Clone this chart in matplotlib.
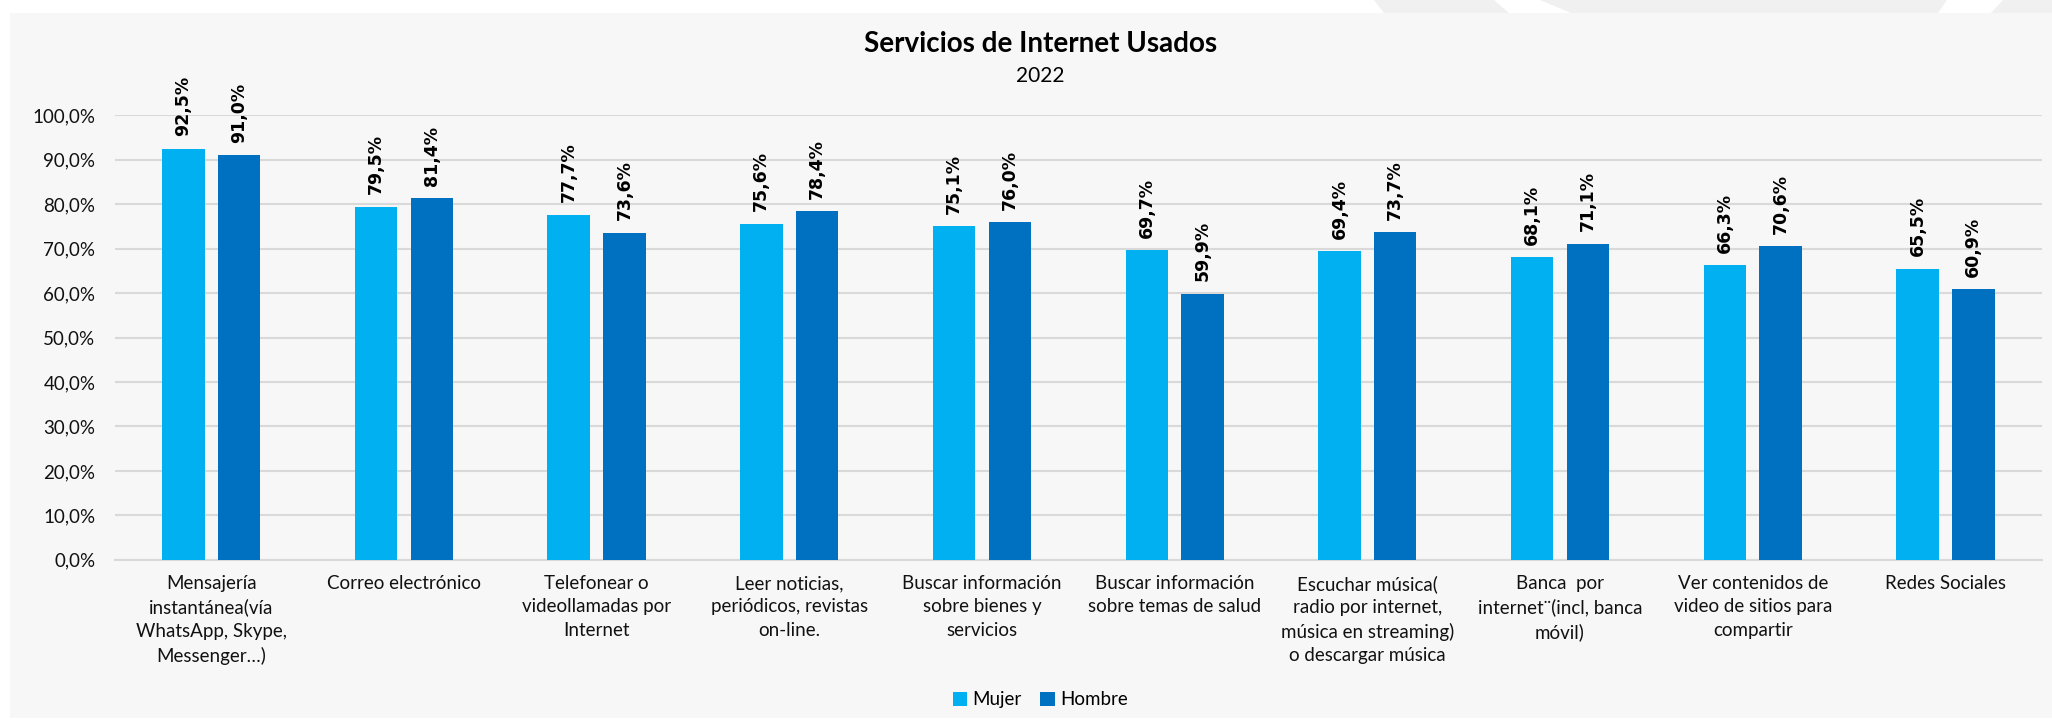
import numpy as np
import matplotlib.pyplot as plt
from matplotlib.patches import Rectangle, Polygon

categorias = [
    "Mensajería\ninstantánea(vía\nWhatsApp, Skype,\nMessenger…)",
    "Correo electrónico",
    "Telefonear o\nvideollamadas por\nInternet",
    "Leer noticias,\nperiódicos, revistas\non-line.",
    "Buscar información\nsobre bienes y\nservicios",
    "Buscar información\nsobre temas de salud",
    "Escuchar música(\nradio por internet,\nmúsica en streaming)\no descargar música",
    "Banca  por\ninternet¨(incl, banca\nmóvil)",
    "Ver contenidos de\nvideo de sitios para\ncompartir",
    "Redes Sociales",
]
mujer = [92.5, 79.5, 77.7, 75.6, 75.1, 69.7, 69.4, 68.1, 66.3, 65.5]
hombre = [91.0, 81.4, 73.6, 78.4, 76.0, 59.9, 73.7, 71.1, 70.6, 60.9]

c_mujer = '#00B0F0'
c_hombre = '#0070C0'
txt = ['Lato', 'DejaVu Sans']

W, H = 2052, 726
fig = plt.figure(figsize=(W / 100, H / 100), dpi=100, facecolor='white')

# panel gris de fondo
fig.add_artist(Rectangle((10 / W, 8 / H), 1, 1 - 21 / H,
                         transform=fig.transFigure, facecolor='#f7f7f7',
                         edgecolor='none', zorder=-10))
# adornos de la cabecera
for top, bot in [((1374, 1494), (1384, 1509)), ((1540, 1947), (1571, 1938)),
                 ((2003, 2060), (1991, 2060))]:
    pts = [(top[0] / W, 1), (top[1] / W, 1), (bot[1] / W, 1 - 13 / H), (bot[0] / W, 1 - 13 / H)]
    fig.add_artist(Polygon(pts, closed=True, transform=fig.transFigure,
                           facecolor='#f0f0f0', edgecolor='none', zorder=-10))

ax = fig.add_axes([0.056, 0.229, 0.939, 0.612])
ax.set_facecolor('none')

x = np.arange(len(categorias))
w = 0.22
off = 0.145
b1 = ax.bar(x - off, [v / 100 for v in mujer], w, color=c_mujer, label='Mujer', zorder=3)
b2 = ax.bar(x + off, [v / 100 for v in hombre], w, color=c_hombre, label='Hombre', zorder=3)

for bars, vals in ((b1, mujer), (b2, hombre)):
    for b, v in zip(bars, vals):
        ax.annotate(f"{v:.1f}%".replace('.', ','),
                    (b.get_x() + b.get_width() / 2, b.get_height()),
                    xytext=(0, 9), textcoords='offset points',
                    rotation=90, ha='center', va='bottom',
                    fontsize=12.5, fontweight='bold', family='DejaVu Sans',
                    annotation_clip=False)

ax.set_xlim(-0.5, len(categorias) - 0.5)
ax.set_ylim(0, 1.0)
ax.set_yticks(np.arange(0, 1.01, 0.1))
ax.set_yticklabels([f"{t:.1f}%".replace('.', ',') for t in np.arange(0, 101, 10)])
ax.set_xticks(x)
ax.set_xticklabels(categorias, linespacing=1.45)
ax.tick_params(length=0)
ax.tick_params(axis='y', pad=14, labelsize=13.5)
ax.tick_params(axis='x', pad=11, labelsize=13.5)
for lab in ax.get_xticklabels() + ax.get_yticklabels():
    lab.set_family(txt)
    lab.set_color('#111111')

ax.grid(axis='y', color='#d9d9d9', linewidth=1.5, zorder=0)
for s in ['top', 'right', 'left']:
    ax.spines[s].set_visible(False)
ax.spines['bottom'].set_color('#d9d9d9')
ax.spines['bottom'].set_linewidth(1.5)

fig.text(0.507, 0.939, 'Servicios de Internet Usados', ha='center', va='center',
         fontsize=20, fontweight='bold', family=txt)
fig.text(0.507, 0.896, '2022', ha='center', va='center', fontsize=15, family=txt)

fig.legend(loc='center', bbox_to_anchor=(0.507, 0.036), ncol=2, frameon=False,
           handlelength=0.75, handleheight=0.75, handletextpad=0.3, columnspacing=1.0,
           prop={'family': txt, 'size': 13.5})

fig.savefig('out.png', dpi=100, facecolor='white')
